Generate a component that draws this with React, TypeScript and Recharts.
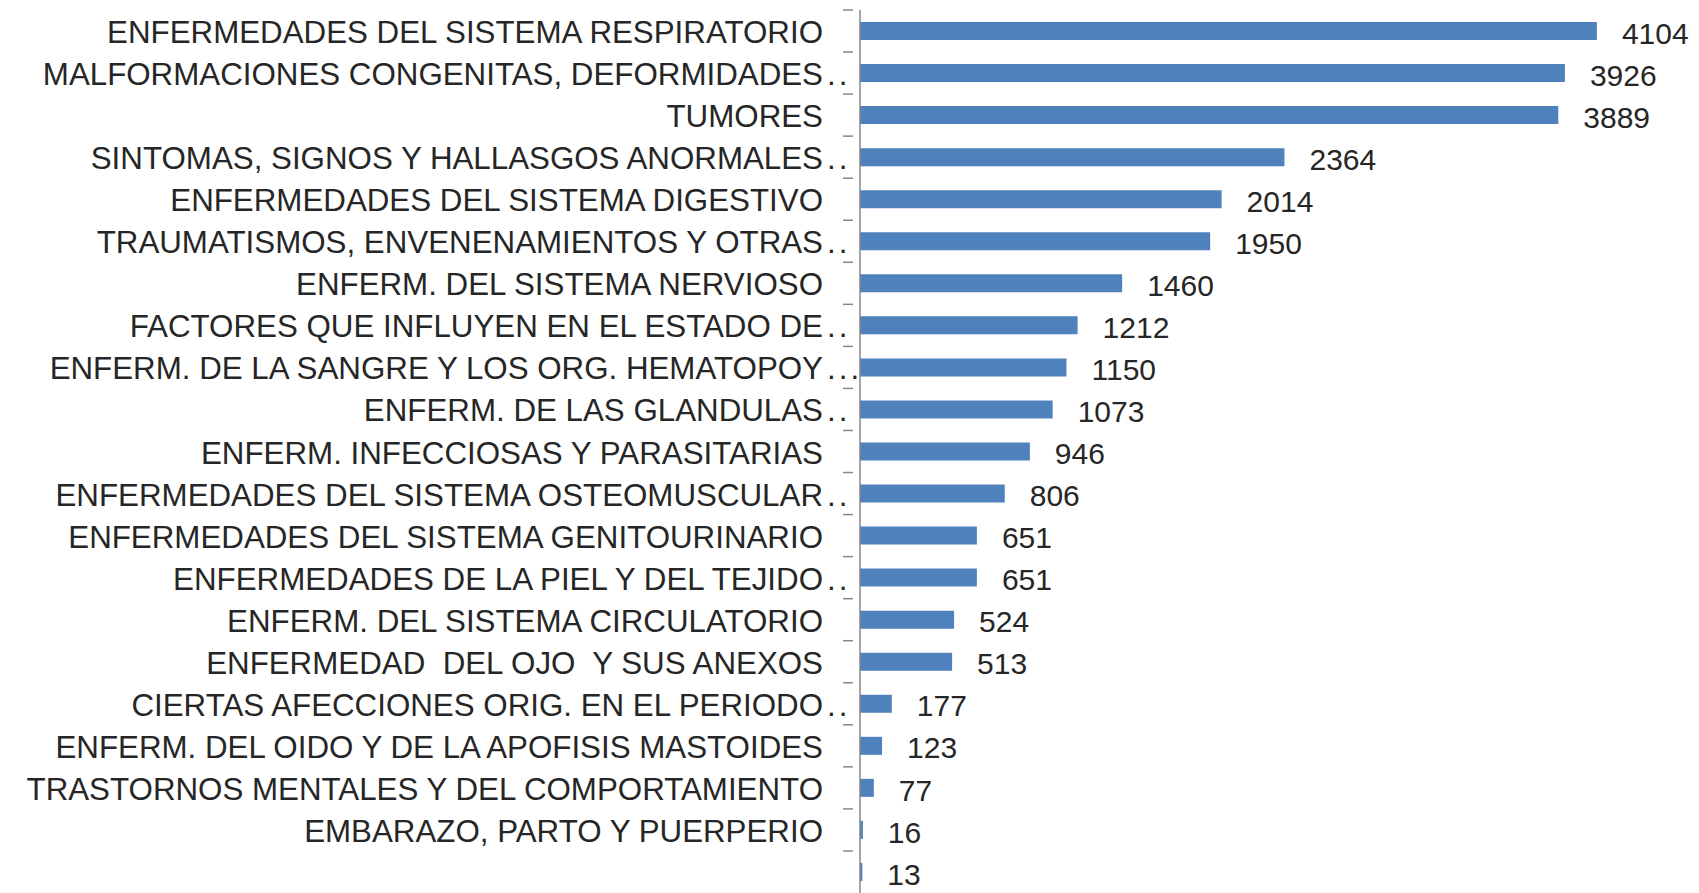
import { BarChart, Bar, XAxis, YAxis, LabelList } from 'recharts';

const categories = [
  'ENFERMEDADES DEL SISTEMA RESPIRATORIO',
  'MALFORMACIONES CONGENITAS, DEFORMIDADES..',
  'TUMORES',
  'SINTOMAS, SIGNOS Y HALLASGOS ANORMALES..',
  'ENFERMEDADES DEL SISTEMA DIGESTIVO',
  'TRAUMATISMOS, ENVENENAMIENTOS Y OTRAS..',
  'ENFERM. DEL SISTEMA NERVIOSO',
  'FACTORES QUE INFLUYEN EN EL ESTADO DE..',
  'ENFERM. DE LA SANGRE Y LOS ORG. HEMATOPOY...',
  'ENFERM. DE LAS GLANDULAS..',
  'ENFERM. INFECCIOSAS Y PARASITARIAS',
  'ENFERMEDADES DEL SISTEMA OSTEOMUSCULAR..',
  'ENFERMEDADES DEL SISTEMA GENITOURINARIO',
  'ENFERMEDADES DE LA PIEL Y DEL TEJIDO..',
  'ENFERM. DEL SISTEMA CIRCULATORIO',
  'ENFERMEDAD  DEL OJO  Y SUS ANEXOS',
  'CIERTAS AFECCIONES ORIG. EN EL PERIODO..',
  'ENFERM. DEL OIDO Y DE LA APOFISIS MASTOIDES',
  'TRASTORNOS MENTALES Y DEL COMPORTAMIENTO',
  'EMBARAZO, PARTO Y PUERPERIO',
  '',
];

const casos = [4104, 3926, 3889, 2364, 2014, 1950, 1460, 1212, 1150, 1073, 946, 806, 651, 651, 524, 513, 177, 123, 77, 16, 13];

const data = categories.map((name, i) => ({ name, casos: casos[i] }));

const FONT = '"Liberation Sans", Arial, sans-serif';
const CHART_H = 900;
const TOP = 10;
const BOTTOM = 7;
const BAND = (CHART_H - TOP - BOTTOM) / categories.length;

const CategoryTick = (props: any) => {
  const { x, y, payload } = props;
  const label: string = payload.value;
  const m = label.match(/^(.*?)(\.{2,})$/);
  const main = m ? m[1] : label;
  const dots = m ? m[2] : '';
  const tx = x - 29;
  return (
    <g>
      <line x1={x + 1} x2={x - 9} y1={y - BAND / 2} y2={y - BAND / 2} stroke="#868686" strokeWidth={1.5} />
      <text x={tx} y={y} dy={12} textAnchor="end" fontSize={31.3} fill="#262626" fontFamily={FONT} style={{ whiteSpace: 'pre' }}>
        {main}
      </text>
      {dots && (
        <text x={tx + 4} y={y} dy={12} textAnchor="start" fontSize={31.3} fill="#262626" fontFamily={FONT} letterSpacing={3}>
          {dots}
        </text>
      )}
    </g>
  );
};

export default function App() {
  return (
    <div style={{ position: 'absolute', top: 0, left: 0, width: 1699, height: 893, overflow: 'hidden', background: '#fff' }}>
      <BarChart
        width={1699}
        height={CHART_H}
        data={data}
        layout="vertical"
        margin={{ top: TOP, right: 31, bottom: BOTTOM, left: 0 }}
      >
        <XAxis type="number" domain={[0, 4500]} hide />
        <YAxis
          type="category"
          dataKey="name"
          width={860}
          interval={0}
          axisLine={{ stroke: '#868686', strokeWidth: 1.5 }}
          tickLine={false}
          tick={<CategoryTick />}
        />
        <Bar dataKey="casos" fill="#4F81BD" barSize={18} isAnimationActive={false}>
          <LabelList
            dataKey="casos"
            position="right"
            offset={25}
            fontSize={30}
            fill="#262626"
            fontFamily={FONT}
            dy={2}
          />
        </Bar>
      </BarChart>
    </div>
  );
}
